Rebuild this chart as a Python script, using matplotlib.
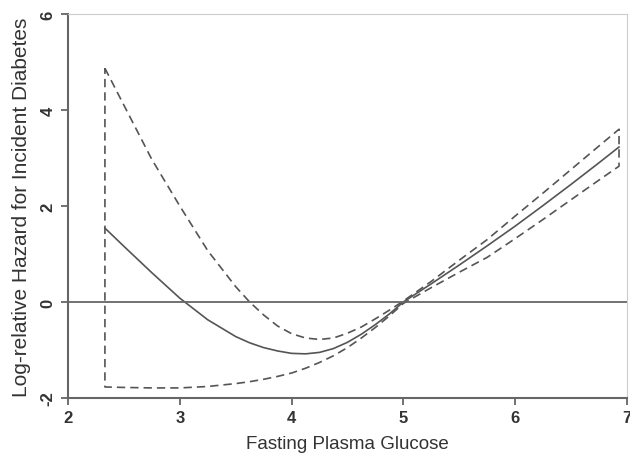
import matplotlib
matplotlib.use("Agg")
import matplotlib.pyplot as plt
import numpy as np

plt.rcParams['font.family'] = ['Liberation Sans', 'DejaVu Sans']

glucose = [2.33, 2.5, 2.75, 3.0, 3.25, 3.5, 3.625, 3.75, 3.875, 4.0, 4.125, 4.25,
           4.375, 4.5, 4.625, 4.75, 4.875, 5.0, 5.25, 5.5, 5.75, 6.0, 6.25, 6.5, 6.75, 6.93]
log_hr = [1.54, 1.16, 0.61, 0.08, -0.37, -0.72, -0.85, -0.95, -1.02, -1.07, -1.08, -1.05,
          -0.97, -0.84, -0.67, -0.47, -0.25, 0.0, 0.38, 0.77, 1.17, 1.58, 2.01, 2.45, 2.90, 3.23]
upper_ci = [4.87, 4.10, 2.97, 2.00, 1.07, 0.32, 0.00, -0.27, -0.50, -0.66, -0.75, -0.78,
            -0.75, -0.65, -0.52, -0.35, -0.17, 0.02, 0.43, 0.87, 1.30, 1.79, 2.27, 2.76, 3.25, 3.60]
lower_ci = [-1.77, -1.78, -1.79, -1.79, -1.76, -1.70, -1.66, -1.61, -1.55, -1.48, -1.38, -1.26,
            -1.12, -0.95, -0.75, -0.53, -0.29, -0.03, 0.30, 0.62, 0.93, 1.32, 1.72, 2.13, 2.54, 2.83]

x_ticks = [2, 3, 4, 5, 6, 7]
y_ticks = [-2, 0, 2, 4, 6]

fig = plt.figure(figsize=(6.3, 4.56), dpi=100)
ax = fig.add_axes([0.108, 0.125, 0.887, 0.842])

col = '#555555'
# confidence band outline (closed path)
bx = list(glucose) + list(glucose[::-1]) + [glucose[0]]
by = list(upper_ci) + list(lower_ci[::-1]) + [upper_ci[0]]
ax.plot(bx, by, color=col, lw=1.2, ls=(0, (5, 3)), solid_joinstyle='round')
ax.plot(glucose, log_hr, color=col, lw=1.2, solid_joinstyle='round')
ax.axhline(0, color='#666666', lw=1.3)

ax.set_xlim(2, 7)
ax.set_ylim(-2, 6)
ax.set_xticks(x_ticks)
ax.set_yticks(y_ticks)
ax.set_xticklabels([str(t) for t in x_ticks], fontsize=12, fontweight='bold', color='#333333')
ax.set_yticklabels([str(t) for t in y_ticks], fontsize=12, fontweight='bold', color='#333333',
                   rotation=90, va='center')
ax.tick_params(axis='both', length=5, width=1.3, color='#666666', pad=4)

for s in ['left', 'bottom']:
    ax.spines[s].set_color('#666666')
    ax.spines[s].set_linewidth(1.5)
for s in ['top', 'right']:
    ax.spines[s].set_color('#cccccc')
    ax.spines[s].set_linewidth(0.8)
ax.spines['top'].set_linestyle((0, (1, 1)))

ax.set_xlabel('Fasting Plasma Glucose', fontsize=13.5, color='#333333', labelpad=7)
ax.set_ylabel('Log-relative Hazard for Incident Diabetes', fontsize=15, color='#333333', labelpad=7)

fig.savefig('out.png', dpi=100)
